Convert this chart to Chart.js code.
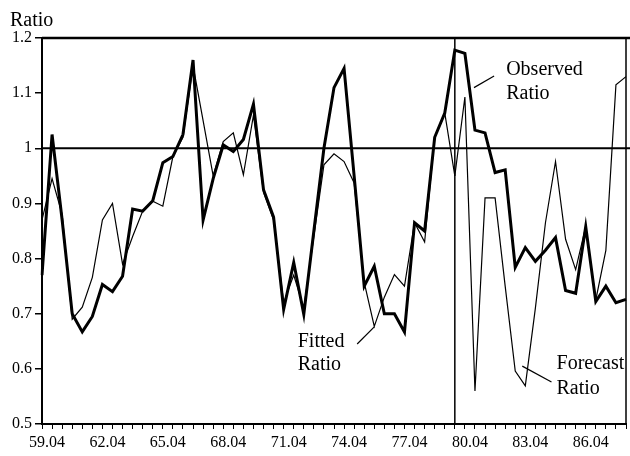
<!DOCTYPE html>
<html>
<head>
<meta charset="utf-8">
<script src="https://cdn.jsdelivr.net/npm/chart.js@4.4.1/dist/chart.umd.min.js"></script>
<style>
  html, body { margin: 0; padding: 0; background: #fff; }
</style>
</head>
<body>
<canvas id="ratioChart" width="630" height="456"></canvas>
<script>
// Half-yearly observations, 59.04 to 88.04
const periods = [
  '59.04','59.10','60.04','60.10','61.04','61.10','62.04','62.10','63.04','63.10',
  '64.04','64.10','65.04','65.10','66.04','66.10','67.04','67.10','68.04','68.10',
  '69.04','69.10','70.04','70.10','71.04','71.10','72.04','72.10','73.04','73.10',
  '74.04','74.10','75.04','75.10','76.04','76.10','77.04','77.10','78.04','78.10',
  '79.04','79.10','80.04','80.10','81.04','81.10','82.04','82.10','83.04','83.10',
  '84.04','84.10','85.04','85.10','86.04','86.10','87.04','87.10','88.04'
];
const tickLabels = ['59.04','62.04','65.04','68.04','71.04','74.04','77.04','80.04','83.04','86.04'];

// Observed ratio (thick line)
const observed = [
  0.77, 1.025, 0.87, 0.70, 0.667, 0.695, 0.753, 0.74, 0.768, 0.89,
  0.886, 0.905, 0.974, 0.985, 1.025, 1.16, 0.87, 0.945, 1.006, 0.994,
  1.016, 1.08, 0.925, 0.875, 0.708, 0.793, 0.699, 0.85, 1.0, 1.11,
  1.145, 0.95, 0.75, 0.786, 0.70, 0.70, 0.667, 0.865, 0.85, 1.02,
  1.064, 1.178, 1.172, 1.033, 1.028, 0.956, 0.961, 0.784, 0.82, 0.795,
  0.815, 0.838, 0.742, 0.737, 0.858, 0.722, 0.75, 0.72, 0.726
];

// Fitted ratio, up to the forecast start
const fitted = [
  0.87, 0.945, 0.88, 0.69, 0.712, 0.766, 0.87, 0.90, 0.79, 0.84,
  0.886, 0.904, 0.895, 0.985, 1.02, 1.15, 1.05, 0.95, 1.012, 1.028,
  0.952, 1.06, 0.92, 0.87, 0.72, 0.77, 0.71, 0.84, 0.97, 0.99,
  0.976, 0.937, 0.757, 0.677, 0.73, 0.771, 0.75, 0.865, 0.83, 1.02,
  1.064, 0.95
];

// Forecast ratio, from the forecast start on
const forecastStart = 41;
const forecast = [
  0.95, 1.093, 0.56, 0.91, 0.91, 0.75, 0.596, 0.569, 0.71, 0.865,
  0.976, 0.835, 0.78, 0.858, 0.725, 0.815, 1.115, 1.13
];

// Text notes with leader lines, placed in data units (category index, ratio)
const notes = [
  { lines: ['Observed', 'Ratio'], x: 46.1, y: [1.133, 1.090], from: [44.9, 1.131], to: [42.9, 1.110] },
  { lines: ['Fitted', 'Ratio'], x: 25.4, y: [0.639, 0.598], from: [31.3, 0.645], to: [33.0, 0.676] },
  { lines: ['Forecast', 'Ratio'], x: 51.1, y: [0.600, 0.555], from: [47.7, 0.605], to: [50.6, 0.576] }
];

const serif = '"Liberation Serif", "DejaVu Serif", serif';

const fittedData = periods.map((p, i) => i < fitted.length ? fitted[i] : null);
const forecastData = periods.map((p, i) => i >= forecastStart ? forecast[i - forecastStart] : null);

// Reference lines, frame and notes
const decorPlugin = {
  id: 'decor',
  beforeDatasetsDraw(chart) {
    const { ctx, chartArea, scales: { x, y } } = chart;
    ctx.save();
    ctx.strokeStyle = '#000';

    // top frame at 1.2
    ctx.lineWidth = 2.5;
    ctx.beginPath();
    ctx.moveTo(chartArea.left, y.getPixelForValue(1.2));
    ctx.lineTo(chart.width, y.getPixelForValue(1.2));
    ctx.stroke();

    // reference line at 1
    ctx.lineWidth = 2;
    ctx.beginPath();
    ctx.moveTo(chartArea.left, y.getPixelForValue(1));
    ctx.lineTo(chart.width, y.getPixelForValue(1));
    ctx.stroke();

    // forecast start
    const xs = x.getPixelForValue(forecastStart);
    ctx.lineWidth = 1.5;
    ctx.beginPath();
    ctx.moveTo(xs, chartArea.top);
    ctx.lineTo(xs, chartArea.bottom);
    ctx.stroke();

    // right frame
    ctx.beginPath();
    ctx.moveTo(chartArea.right, chartArea.top);
    ctx.lineTo(chartArea.right, chartArea.bottom);
    ctx.stroke();
    ctx.restore();
  },
  afterDatasetsDraw(chart) {
    const { ctx, scales: { x, y } } = chart;
    ctx.save();
    ctx.fillStyle = '#000';
    ctx.strokeStyle = '#000';
    ctx.font = '20px ' + serif;
    ctx.textAlign = 'left';
    ctx.textBaseline = 'alphabetic';
    ctx.fillText('Ratio', 10, 26);

    notes.forEach(n => {
      n.lines.forEach((t, k) => {
        ctx.fillText(t, x.getPixelForValue(n.x), y.getPixelForValue(n.y[k]));
      });
      ctx.lineWidth = 1.2;
      ctx.beginPath();
      ctx.moveTo(x.getPixelForValue(n.from[0]), y.getPixelForValue(n.from[1]));
      ctx.lineTo(x.getPixelForValue(n.to[0]), y.getPixelForValue(n.to[1]));
      ctx.stroke();
    });
    ctx.restore();
  }
};

const ctx = document.getElementById('ratioChart').getContext('2d');

new Chart(ctx, {
  type: 'line',
  data: {
    labels: periods,
    datasets: [
      {
        label: 'Observed Ratio',
        data: observed,
        borderColor: '#000',
        borderWidth: 3,
        pointRadius: 0,
        tension: 0
      },
      {
        label: 'Fitted Ratio',
        data: fittedData,
        borderColor: '#000',
        borderWidth: 1.2,
        pointRadius: 0,
        tension: 0
      },
      {
        label: 'Forecast Ratio',
        data: forecastData,
        borderColor: '#000',
        borderWidth: 1.2,
        pointRadius: 0,
        tension: 0
      }
    ]
  },
  options: {
    responsive: false,
    animation: false,
    layout: { padding: { top: 38, right: 3, left: 0, bottom: 0 } },
    plugins: {
      legend: { display: false },
      tooltip: { enabled: false }
    },
    scales: {
      x: {
        type: 'category',
        offset: false,
        afterFit: scale => { scale.height = 32; },
        grid: {
          display: true,
          drawOnChartArea: false,
          drawTicks: true,
          tickLength: 5,
          color: '#000',
          lineWidth: 1
        },
        border: { display: true, color: '#000', width: 2 },
        ticks: {
          autoSkip: false,
          maxRotation: 0,
          minRotation: 0,
          labelOffset: 5,
          padding: 4,
          color: '#000',
          font: { family: serif, size: 16 },
          callback: (v, i) => tickLabels.includes(periods[i]) ? periods[i] : ''
        }
      },
      y: {
        min: 0.5,
        max: 1.2,
        afterFit: scale => { scale.width = 42; },
        grid: {
          display: true,
          drawOnChartArea: false,
          drawTicks: true,
          tickLength: 7,
          color: '#000',
          lineWidth: 1.5
        },
        border: { display: true, color: '#000', width: 2 },
        ticks: {
          stepSize: 0.1,
          padding: 3,
          color: '#000',
          font: { family: serif, size: 16 },
          callback: v => {
            const r = Math.round(v * 10) / 10;
            return r === 1 ? '1' : r.toFixed(1);
          }
        }
      }
    }
  },
  plugins: [decorPlugin]
});
</script>
</body>
</html>
